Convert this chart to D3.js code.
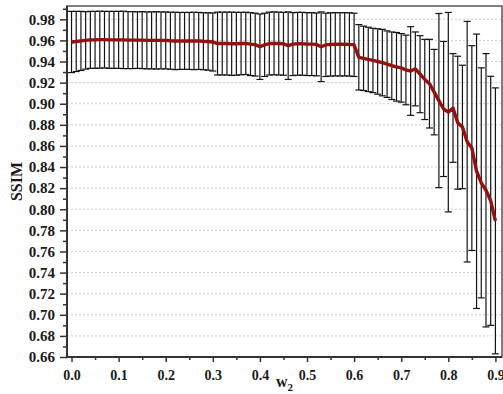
<!DOCTYPE html>
<html>
<head>
<meta charset="utf-8">
<script src="https://cdn.jsdelivr.net/npm/d3@7"></script>
<style>
  html, body { margin: 0; padding: 0; background: #fff; }
  svg { display: block; }
</style>
</head>
<body>
<div id="chart"></div>
<script>
// SSIM vs w2: mean curve with error bars

const W2 = [
  0.00, 0.01, 0.02, 0.03, 0.04, 0.05, 0.06, 0.07, 0.08, 0.09,
  0.10, 0.11, 0.12, 0.13, 0.14, 0.15, 0.16, 0.17, 0.18, 0.19,
  0.20, 0.21, 0.22, 0.23, 0.24, 0.25, 0.26, 0.27, 0.28, 0.29,
  0.30, 0.31, 0.32, 0.33, 0.34, 0.35, 0.36, 0.37, 0.38, 0.39,
  0.40, 0.41, 0.42, 0.43, 0.44, 0.45, 0.46, 0.47, 0.48, 0.49,
  0.50, 0.51, 0.52, 0.53, 0.54, 0.55, 0.56, 0.57, 0.58, 0.59,
  0.60, 0.61, 0.62, 0.63, 0.64, 0.65, 0.66, 0.67, 0.68, 0.69,
  0.70, 0.71, 0.72, 0.73, 0.74, 0.75, 0.76, 0.77, 0.78, 0.79,
  0.80, 0.81, 0.82, 0.83, 0.84, 0.85, 0.86, 0.87, 0.88, 0.89,
  0.90
];

const SSIM_MEAN = [
  0.9585, 0.9590, 0.9595, 0.9600, 0.9605, 0.9605, 0.9607, 0.9607, 0.9605, 0.9605,
  0.9605, 0.9605, 0.9603, 0.9603, 0.9603, 0.9603, 0.9600, 0.9600, 0.9600, 0.9600,
  0.9600, 0.9597, 0.9595, 0.9595, 0.9595, 0.9595, 0.9595, 0.9595, 0.9592, 0.9590,
  0.9585, 0.9570, 0.9570, 0.9570, 0.9568, 0.9568, 0.9570, 0.9572, 0.9565, 0.9560,
  0.9540, 0.9558, 0.9570, 0.9572, 0.9570, 0.9568, 0.9550, 0.9565, 0.9568, 0.9568,
  0.9565, 0.9565, 0.9562, 0.9540, 0.9558, 0.9562, 0.9563, 0.9563, 0.9563, 0.9562,
  0.9558, 0.9440, 0.9430, 0.9420, 0.9410, 0.9400, 0.9390, 0.9375, 0.9360, 0.9350,
  0.9340, 0.9320, 0.9310, 0.9330, 0.9280, 0.9230, 0.9190, 0.9110, 0.9030, 0.8950,
  0.8920, 0.8960, 0.8820, 0.8780, 0.8640, 0.8580, 0.8360, 0.8250, 0.8180, 0.8080,
  0.7890
];

const SSIM_SD = [
  0.0290, 0.0285, 0.0280, 0.0272, 0.0270, 0.0270, 0.0270, 0.0268, 0.0270, 0.0270,
  0.0270, 0.0272, 0.0270, 0.0270, 0.0268, 0.0270, 0.0270, 0.0270, 0.0272, 0.0270,
  0.0270, 0.0270, 0.0272, 0.0270, 0.0270, 0.0270, 0.0272, 0.0270, 0.0270, 0.0272,
  0.0275, 0.0298, 0.0298, 0.0298, 0.0300, 0.0298, 0.0296, 0.0295, 0.0298, 0.0298,
  0.0310, 0.0300, 0.0298, 0.0298, 0.0298, 0.0298, 0.0320, 0.0298, 0.0298, 0.0298,
  0.0298, 0.0298, 0.0298, 0.0330, 0.0300, 0.0300, 0.0300, 0.0300, 0.0300, 0.0300,
  0.0300, 0.0310, 0.0305, 0.0305, 0.0305, 0.0310, 0.0315, 0.0315, 0.0320, 0.0325,
  0.0325, 0.0330, 0.0420, 0.0350, 0.0365, 0.0380, 0.0420, 0.0405, 0.0825, 0.0640,
  0.0945, 0.0515, 0.0630, 0.0585, 0.1140, 0.0970, 0.1300, 0.1090, 0.1295, 0.1180,
  0.1260
];

const X_TICKS = [0.0, 0.1, 0.2, 0.3, 0.4, 0.5, 0.6, 0.7, 0.8, 0.9];
const X_MINOR = [0.05, 0.15, 0.25, 0.35, 0.45, 0.55, 0.65, 0.75, 0.85];
const Y_TICKS = [0.66, 0.68, 0.70, 0.72, 0.74, 0.76, 0.78, 0.80, 0.82,
                 0.84, 0.86, 0.88, 0.90, 0.92, 0.94, 0.96, 0.98];
const Y_MINOR = [0.67, 0.69, 0.71, 0.73, 0.75, 0.77, 0.79, 0.81, 0.83,
                 0.85, 0.87, 0.89, 0.91, 0.93, 0.95, 0.97, 0.99];

const X_LABEL = "w";
const X_LABEL_SUB = "2";
const Y_LABEL = "SSIM";

const COLOURS = {
    AXIS: "#333",
    FRAME: "#555",
    GRID: "#cfcfcf",
    ERROR_BAR: "#141414",
    MEAN_LINE: "#921212"
};
const FONT = "'Liberation Serif', 'Times New Roman', serif";

const WIDTH = 503, HEIGHT = 394;
const plot = {left: 67, right: 502, top: 6, bottom: 357};

const svg = d3.select("#chart")
    .append("svg")
    .attr("width", WIDTH)
    .attr("height", HEIGHT);

const x = d3.scaleLinear()
    .domain([-0.0096, 0.914])
    .range([plot.left, plot.right]);

const y = d3.scaleLinear()
    .domain([0.66, 0.9926])
    .range([plot.bottom, plot.top]);

// dotted horizontal grid
svg.append("g")
    .selectAll("line")
    .data(Y_TICKS.filter(d => d > 0.66))
    .enter()
    .append("line")
    .attr("x1", plot.left)
    .attr("x2", plot.right)
    .attr("y1", d => y(d))
    .attr("y2", d => y(d))
    .attr("stroke", COLOURS.GRID)
    .attr("stroke-width", 1)
    .attr("stroke-dasharray", "2,2");

// frame
svg.append("rect")
    .attr("x", plot.left)
    .attr("y", plot.top)
    .attr("width", plot.right - plot.left)
    .attr("height", plot.bottom - plot.top)
    .attr("fill", "none")
    .attr("stroke", COLOURS.FRAME)
    .attr("stroke-width", 1.5);

// error bars
const rows = W2.map((w, i) => ({w, mean: SSIM_MEAN[i], sd: SSIM_SD[i]}));
const capHalf = 3.5;

const bars = svg.append("g")
    .attr("stroke", COLOURS.ERROR_BAR)
    .attr("stroke-width", 1.2)
    .selectAll("g")
    .data(rows)
    .enter()
    .append("g");

bars.append("line")
    .attr("x1", d => x(d.w))
    .attr("x2", d => x(d.w))
    .attr("y1", d => y(d.mean + d.sd))
    .attr("y2", d => y(d.mean - d.sd));

bars.append("line")
    .attr("x1", d => x(d.w) - capHalf)
    .attr("x2", d => x(d.w) + capHalf)
    .attr("y1", d => y(d.mean + d.sd))
    .attr("y2", d => y(d.mean + d.sd));

bars.append("line")
    .attr("x1", d => x(d.w) - capHalf)
    .attr("x2", d => x(d.w) + capHalf)
    .attr("y1", d => y(d.mean - d.sd))
    .attr("y2", d => y(d.mean - d.sd));

// mean curve
const line = d3.line()
    .x(d => x(d.w))
    .y(d => y(d.mean));

svg.append("path")
    .datum(rows)
    .attr("fill", "none")
    .attr("stroke", COLOURS.MEAN_LINE)
    .attr("stroke-width", 3.4)
    .attr("stroke-linejoin", "round")
    .attr("d", line);

// axes
function styleAxis(g, fontSize) {
    g.select(".domain").remove();
    g.selectAll(".tick line")
        .attr("stroke", COLOURS.AXIS)
        .attr("stroke-width", 1.5);
    g.selectAll("text")
        .attr("fill", "#1a1a1a")
        .style("font-family", FONT)
        .style("font-weight", "bold")
        .style("font-size", fontSize + "px");
}

svg.append("g")
    .attr("transform", `translate(${plot.left},0)`)
    .call(d3.axisLeft(y).tickValues(Y_MINOR).tickSize(4).tickFormat(""))
    .call(g => styleAxis(g, 15));

svg.append("g")
    .attr("transform", `translate(${plot.left},0)`)
    .call(d3.axisLeft(y).tickValues(Y_TICKS).tickSize(7).tickPadding(5)
        .tickFormat(d3.format(".2f")))
    .call(g => styleAxis(g, 15));

svg.append("g")
    .attr("transform", `translate(0,${plot.bottom})`)
    .call(d3.axisBottom(x).tickValues(X_MINOR).tickSize(3).tickFormat(""))
    .call(g => styleAxis(g, 14));

svg.append("g")
    .attr("transform", `translate(0,${plot.bottom})`)
    .call(d3.axisBottom(x).tickValues(X_TICKS).tickSize(5).tickPadding(8)
        .tickFormat(d3.format(".1f")))
    .call(g => styleAxis(g, 14));

// axis lines
svg.append("line")
    .attr("x1", plot.left).attr("x2", plot.left)
    .attr("y1", plot.top).attr("y2", plot.bottom + 1)
    .attr("stroke", COLOURS.AXIS)
    .attr("stroke-width", 2);

svg.append("line")
    .attr("x1", plot.left - 1).attr("x2", plot.right)
    .attr("y1", plot.bottom).attr("y2", plot.bottom)
    .attr("stroke", COLOURS.AXIS)
    .attr("stroke-width", 2);

// axis titles
const xTitle = svg.append("text")
    .attr("x", (plot.left + plot.right) / 2)
    .attr("y", 387)
    .attr("text-anchor", "middle")
    .style("font-family", FONT)
    .style("font-weight", "bold")
    .style("font-size", "16px")
    .attr("fill", "#1a1a1a");

xTitle.append("tspan").text(X_LABEL);
xTitle.append("tspan")
    .attr("dy", 4)
    .style("font-size", "11px")
    .text(X_LABEL_SUB);

svg.append("text")
    .attr("transform", `translate(22,${(plot.top + plot.bottom) / 2}) rotate(-90)`)
    .attr("text-anchor", "middle")
    .style("font-family", FONT)
    .style("font-weight", "bold")
    .style("font-size", "16px")
    .attr("fill", "#1a1a1a")
    .text(Y_LABEL);
</script>
</body>
</html>
